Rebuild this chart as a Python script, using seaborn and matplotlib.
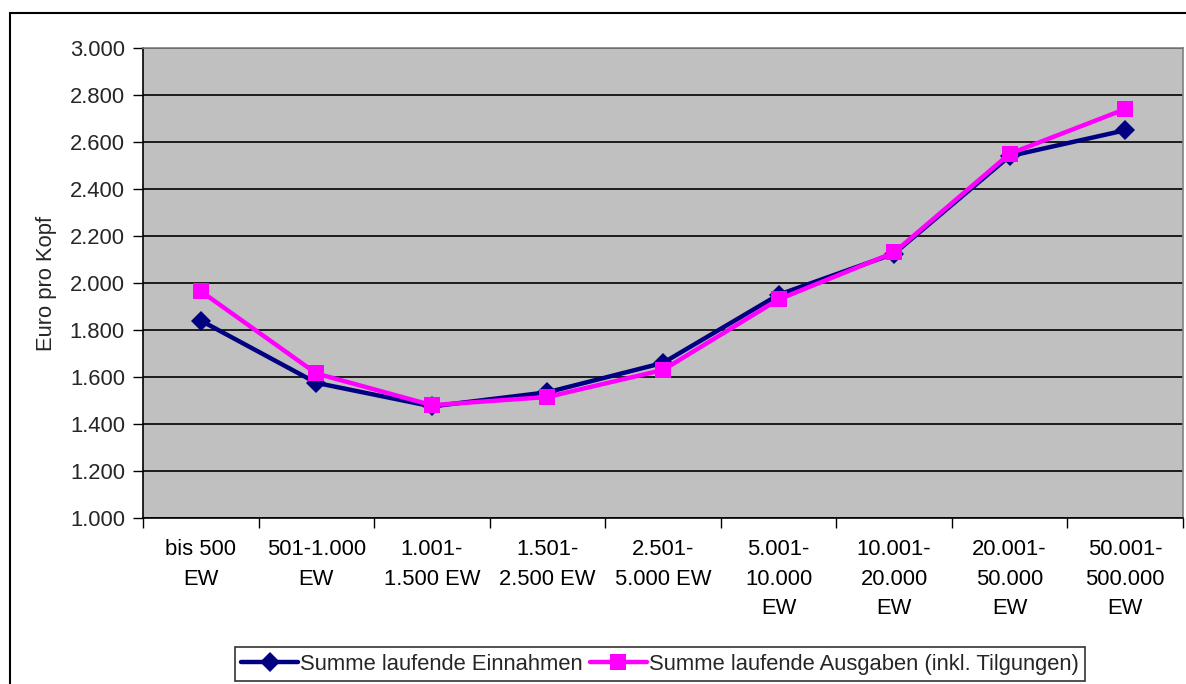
import matplotlib
matplotlib.use("Agg")
import matplotlib.pyplot as plt
import matplotlib.patches as mpatches
from matplotlib.ticker import FuncFormatter, FixedLocator
import seaborn as sns
import pandas as pd

categories = ["bis 500\nEW", "501-1.000\nEW", "1.001-\n1.500 EW", "1.501-\n2.500 EW",
              "2.501-\n5.000 EW", "5.001-\n10.000\nEW", "10.001-\n20.000\nEW",
              "20.001-\n50.000\nEW", "50.001-\n500.000\nEW"]
einnahmen = [1840, 1575, 1475, 1535, 1660, 1950, 2125, 2540, 2650]
ausgaben = [1965, 1615, 1480, 1515, 1630, 1930, 2130, 2550, 2740]
series_names = ["Summe laufende Einnahmen", "Summe laufende Ausgaben (inkl. Tilgungen)"]
y_ticks = [1000, 1200, 1400, 1600, 1800, 2000, 2200, 2400, 2600, 2800, 3000]

df = pd.DataFrame({
    "x": list(range(len(categories))) * 2,
    "value": einnahmen + ausgaben,
    "series": [series_names[0]] * len(categories) + [series_names[1]] * len(categories),
})

sns.set_theme(style="white")
plt.rcParams["font.family"] = ["Liberation Sans", "DejaVu Sans"]
FS = 15.8

fig = plt.figure(figsize=(11.86, 6.84), dpi=100)
ax = fig.add_axes([143 / 1186, 1 - 518 / 684, (1183 - 143) / 1186, (518 - 48) / 684])
ax.set_facecolor("#C0C0C0")

palette = {series_names[0]: "#000080", series_names[1]: "#FF00FF"}
markers = {series_names[0]: "D", series_names[1]: "s"}
sizes_ms = {series_names[0]: 10, series_names[1]: 12}

for name in series_names:
    sub = df[df["series"] == name]
    sns.lineplot(data=sub, x="x", y="value", ax=ax, color=palette[name],
                 marker=markers[name], markersize=sizes_ms[name], markeredgewidth=0,
                 linewidth=3.2, label=name, sort=False, zorder=3)

ax.set_xlim(-0.5, len(categories) - 0.5)
ax.set_ylim(1000, 3000)
ax.set_yticks(y_ticks)
ax.yaxis.set_major_formatter(FuncFormatter(lambda v, p: f"{int(v):,}".replace(",", ".")))
ax.set_xticks(range(len(categories)))
ax.set_xticklabels(categories, fontsize=FS, linespacing=1.55)
ax.xaxis.set_minor_locator(FixedLocator([i - 0.5 for i in range(len(categories) + 1)]))
ax.tick_params(axis="x", which="major", length=0, pad=15, colors="black")
ax.tick_params(axis="x", which="minor", length=7, width=1, color="black", direction="out", bottom=True)
ax.tick_params(axis="y", which="major", length=7, width=1, color="black", direction="out",
               left=True, labelsize=FS, pad=6)
for t in ax.get_yticklabels():
    t.set_fontsize(FS)

ax.grid(axis="y", color="#000000", linewidth=1.2, zorder=1)
ax.set_axisbelow(True)
ax.set_xlabel("")
ax.set_ylabel("Euro pro Kopf", fontsize=FS, labelpad=9)

ax.spines["left"].set_color("black")
ax.spines["bottom"].set_color("black")
ax.spines["top"].set_color("#808080")
ax.spines["right"].set_color("#808080")
for s in ax.spines.values():
    s.set_linewidth(1.2)

ax.get_legend().remove()
handles, labels = ax.get_legend_handles_labels()
leg = fig.legend(handles, labels, loc="upper center", bbox_to_anchor=(660 / 1186, 1 - 647 / 684),
                 ncol=2, frameon=True, fancybox=False, fontsize=FS, handlelength=2.6,
                 handletextpad=0.1, columnspacing=0.3, borderpad=0.3, borderaxespad=0)
leg.get_frame().set_edgecolor("black")
leg.get_frame().set_linewidth(1.2)

border = mpatches.Rectangle((10 / 1186, -0.1), 1.2, 1 - 13 / 684 + 0.1, transform=fig.transFigure,
                            fill=False, edgecolor="black", linewidth=1.5, clip_on=False)
fig.patches.append(border)

fig.savefig("out.png", dpi=100, facecolor="white")
